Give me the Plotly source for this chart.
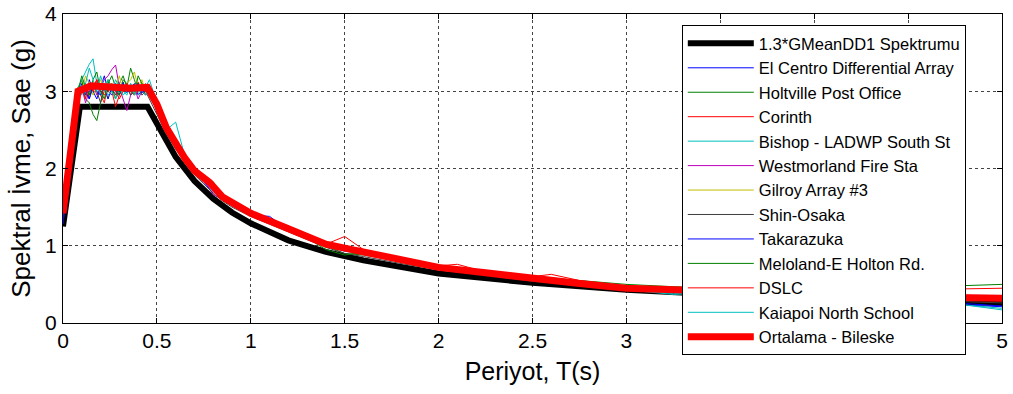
import plotly.graph_objects as go

# ---------------- data ----------------
T_design = [0, 0.09, 0.45, 0.5, 0.6, 0.7, 0.8, 0.9, 1.0, 1.2, 1.4, 1.6, 1.8, 2.0,
            2.5, 3.0, 3.5, 4.0, 4.5, 5.0]
design_vals = [1.25, 2.8, 2.8, 2.58, 2.15, 1.84, 1.61, 1.43, 1.29, 1.07, 0.92,
               0.81, 0.72, 0.64, 0.52, 0.43, 0.37, 0.32, 0.29, 0.26]

T_mean = [0, 0.08, 0.15, 0.25, 0.35, 0.45, 0.5, 0.55, 0.6, 0.65, 0.7, 0.78, 0.85,
          0.95, 1.0, 1.1, 1.2, 1.3, 1.4, 1.5, 1.6, 1.8, 2.0, 2.25, 2.5, 2.75, 3.0,
          3.5, 4.0, 4.5, 5.0]
mean_vals = [1.42, 3.0, 3.07, 3.05, 3.04, 3.05, 2.83, 2.53, 2.32, 2.13, 1.97, 1.82,
             1.63, 1.48, 1.42, 1.32, 1.22, 1.14, 1.02, 0.97, 0.92, 0.82, 0.72, 0.65,
             0.57, 0.51, 0.45, 0.41, 0.37, 0.34, 0.32]

T_rec = [0, 0.02, 0.04, 0.06, 0.08, 0.10, 0.12, 0.14, 0.16, 0.18, 0.20, 0.22, 0.24,
         0.26, 0.28, 0.30, 0.32, 0.34, 0.36, 0.38, 0.40, 0.42, 0.44, 0.46, 0.48, 0.50,
         0.55, 0.60, 0.65, 0.70, 0.75, 0.80, 0.85, 0.90, 0.95, 1.0,
         1.1, 1.2, 1.3, 1.4, 1.5, 1.6,
         1.8, 2.0, 2.1, 2.25, 2.5, 2.6, 2.75, 3.0, 3.25, 3.5, 4.0, 4.5, 5.0]

elcentro = [1.35, 1.75, 2.2, 2.6, 2.95, 3.1, 2.95, 3.15, 3.0, 2.9, 3.05, 3.2, 3.0, 2.95,
            3.1, 3.0, 3.12, 2.98, 3.05, 3.1, 2.95, 3.0, 3.08, 2.95, 2.85, 2.75,
            2.5, 2.3, 2.1, 1.95, 1.85, 1.72, 1.6, 1.52, 1.46, 1.4,
            1.38, 1.2, 1.1, 1.0, 0.94, 0.9,
            0.8, 0.72, 0.69, 0.64, 0.56, 0.54, 0.5, 0.45, 0.42, 0.4, 0.35, 0.3, 0.22]
holtville = [1.5, 1.85, 2.3, 2.7, 3.0, 3.15, 2.9, 2.85, 2.7, 2.62, 2.85, 3.0, 3.15, 3.05,
             2.9, 3.1, 3.2, 3.05, 3.3, 3.15, 3.0, 3.1, 2.95, 3.05, 2.9, 2.8,
             2.55, 2.3, 2.1, 2.0, 1.85, 1.83, 1.6, 1.6, 1.47, 1.4,
             1.3, 1.22, 1.12, 1.0, 0.9, 0.88,
             0.8, 0.72, 0.7, 0.65, 0.57, 0.55, 0.52, 0.46, 0.42, 0.4, 0.36, 0.33, 0.3]
corinth = [1.4, 1.8, 2.25, 2.65, 2.95, 3.0, 3.1, 2.95, 3.05, 3.15, 2.95, 2.85, 3.1, 3.0,
           2.8, 2.95, 3.05, 3.1, 2.95, 3.0, 3.12, 2.98, 3.0, 2.95, 2.9, 2.8,
           2.5, 2.28, 2.12, 1.95, 1.85, 1.74, 1.62, 1.53, 1.47, 1.41,
           1.3, 1.22, 1.12, 1.02, 1.12, 0.95,
           0.82, 0.73, 0.7, 0.65, 0.57, 0.55, 0.52, 0.46, 0.43, 0.41, 0.37, 0.35, 0.33]
bishop = [1.45, 1.8, 2.3, 2.7, 3.05, 3.15, 3.25, 3.35, 3.42, 3.1, 2.95, 3.05, 3.15, 3.0,
          2.9, 3.05, 3.0, 2.95, 3.1, 3.0, 2.95, 3.1, 3.05, 3.15, 3.0, 2.8,
          2.5, 2.6, 2.15, 1.97, 1.85, 1.73, 1.62, 1.54, 1.48, 1.42,
          1.3, 1.25, 1.13, 1.02, 0.95, 0.91,
          0.8, 0.71, 0.68, 0.64, 0.56, 0.54, 0.5, 0.44, 0.38, 0.4, 0.36, 0.33, 0.17]
westmorland = [1.4, 1.75, 2.2, 2.6, 2.9, 3.05, 2.85, 3.0, 3.1, 2.95, 3.05, 3.15, 3.2, 3.28,
               3.34, 3.05, 2.9, 2.75, 2.95, 3.05, 2.9, 3.0, 2.95, 3.0, 2.85, 2.78,
               2.52, 2.32, 2.1, 1.95, 1.84, 1.66, 1.6, 1.52, 1.46, 1.4,
               1.33, 1.22, 1.13, 1.02, 0.95, 0.9,
               0.81, 0.72, 0.69, 0.65, 0.57, 0.55, 0.51, 0.45, 0.43, 0.41, 0.37, 0.34, 0.3]
gilroy = [1.55, 1.9, 2.35, 2.75, 3.05, 3.0, 3.2, 3.1, 2.95, 3.05, 3.15, 3.0, 2.9, 3.1,
          3.05, 3.2, 3.0, 3.1, 3.15, 3.25, 3.05, 3.15, 3.0, 2.95, 2.88, 2.8,
          2.55, 2.34, 2.15, 1.98, 1.86, 1.74, 1.66, 1.54, 1.48, 1.42,
          1.31, 1.23, 1.14, 1.03, 0.96, 0.92,
          0.82, 0.73, 0.7, 0.66, 0.58, 0.56, 0.52, 0.46, 0.43, 0.41, 0.37, 0.34, 0.32]
shinosaka = [1.3, 1.7, 2.15, 2.55, 2.9, 3.0, 3.1, 2.9, 3.05, 3.0, 2.85, 3.1, 3.0, 3.05,
             2.95, 3.1, 3.0, 3.05, 2.95, 3.0, 3.1, 2.95, 3.0, 2.9, 2.8, 2.7,
             2.45, 2.25, 2.08, 1.92, 1.8, 1.68, 1.58, 1.5, 1.44, 1.38,
             1.28, 1.18, 1.08, 0.98, 0.9, 0.86,
             0.77, 0.69, 0.67, 0.62, 0.54, 0.52, 0.49, 0.43, 0.41, 0.38, 0.34, 0.3, 0.26]
takarazuka = [1.28, 1.7, 2.2, 2.6, 2.95, 3.05, 3.0, 2.9, 3.1, 3.0, 2.95, 3.05, 2.9, 3.05,
              3.0, 2.95, 3.1, 3.0, 3.0, 3.05, 3.1, 2.98, 3.02, 2.95, 2.85, 2.78,
              2.5, 2.3, 2.12, 1.96, 1.82, 1.7, 1.6, 1.55, 1.5, 1.45,
              1.35, 1.24, 1.12, 1.0, 0.93, 0.9,
              0.8, 0.72, 0.68, 0.64, 0.56, 0.54, 0.5, 0.45, 0.42, 0.39, 0.33, 0.27, 0.21]
meloland = [1.5, 1.85, 2.3, 2.7, 3.0, 3.2, 3.05, 2.95, 3.15, 3.25, 3.0, 2.9, 3.1, 3.2,
            3.05, 2.95, 3.15, 3.1, 3.0, 2.95, 3.2, 3.1, 3.0, 3.05, 2.95, 2.85,
            2.55, 2.35, 2.15, 1.98, 1.87, 1.76, 1.65, 1.56, 1.49, 1.42,
            1.3, 1.2, 1.1, 0.95, 0.88, 0.92,
            0.83, 0.75, 0.72, 0.68, 0.6, 0.58, 0.55, 0.5, 0.47, 0.45, 0.43, 0.46, 0.5]
dslc = [1.45, 1.8, 2.25, 2.65, 3.0, 3.05, 2.9, 3.1, 3.0, 3.15, 3.05, 2.95, 3.0, 3.1,
        3.0, 2.9, 3.0, 3.1, 3.05, 2.95, 3.0, 3.05, 3.1, 3.0, 2.9, 2.82,
        2.55, 2.33, 2.14, 1.98, 1.87, 1.75, 1.63, 1.55, 1.48, 1.42,
        1.32, 1.23, 1.14, 1.03, 0.97, 0.92,
        0.82, 0.74, 0.76, 0.66, 0.6, 0.63, 0.55, 0.47, 0.44, 0.42, 0.4, 0.43, 0.45]
kaiapoi = [1.45, 1.8, 2.25, 2.7, 3.05, 2.95, 3.1, 3.3, 3.15, 3.0, 3.2, 3.05, 2.95, 3.0,
           3.15, 3.05, 2.95, 3.0, 3.1, 2.95, 3.05, 3.0, 2.95, 3.05, 2.92, 2.8,
           2.52, 2.3, 2.12, 1.96, 1.85, 1.73, 1.62, 1.54, 1.47, 1.41,
           1.32, 1.26, 1.12, 1.02, 0.95, 0.9,
           0.8, 0.71, 0.68, 0.63, 0.55, 0.53, 0.49, 0.43, 0.37, 0.39, 0.35, 0.3, 0.19]

record_names = ["El Centro Differential Array", "Holtville Post Office", "Corinth",
                "Bishop - LADWP South St", "Westmorland Fire Sta", "Gilroy Array #3",
                "Shin-Osaka", "Takarazuka", "Meloland-E Holton Rd.", "DSLC",
                "Kaiapoi North School"]
record_values = [elcentro, holtville, corinth, bishop, westmorland, gilroy,
                 shinosaka, takarazuka, meloland, dslc, kaiapoi]
record_colors = ["#0000FF", "#008000", "#FF0000", "#00BFBF", "#BF00BF", "#BFBF00",
                 "#404040", "#0000FF", "#008000", "#FF0000", "#00BFBF"]

design_name = "1.3*GMeanDD1 Spektrumu"
mean_name = "Ortalama - Bileske"

x_tickvals = [0, 0.5, 1, 1.5, 2, 2.5, 3, 3.5, 4, 4.5, 5]
x_ticktext = ["0", "0.5", "1", "1.5", "2", "2.5", "3", "3.5", "4", "4.5", "5"]
y_tickvals = [0, 1, 2, 3, 4]
y_ticktext = ["0", "1", "2", "3", "4"]

# ---------------- figure ----------------
FONT = "Liberation Sans, Arial, sans-serif"
fig = go.Figure()

fig.add_trace(go.Scatter(x=T_design, y=design_vals, mode="lines", name=design_name,
                         line=dict(color="black", width=6)))
for name, vals, col in zip(record_names, record_values, record_colors):
    fig.add_trace(go.Scatter(x=T_rec, y=vals, mode="lines", name=name,
                             line=dict(color=col, width=1)))
fig.add_trace(go.Scatter(x=T_mean, y=mean_vals, mode="lines", name=mean_name,
                         line=dict(color="#FF0000", width=7)))

axis_common = dict(
    showline=True, linecolor="black", linewidth=1, mirror="ticks",
    ticks="inside", ticklen=5, tickcolor="black",
    showgrid=True, gridcolor="#444444", griddash="dot", gridwidth=1,
    zeroline=False, automargin=False, ticklabeloverflow="allow",
    tickfont=dict(family=FONT, size=21, color="black"),
)

fig.update_xaxes(range=[0, 5], tickvals=x_tickvals, ticktext=x_ticktext,
                 ticklabelstandoff=-1,
                 title=dict(text="Periyot, T(s)", font=dict(family=FONT, size=25, color="black"),
                            standoff=11),
                 **axis_common)
fig.update_yaxes(range=[0, 4], tickvals=y_tickvals, ticktext=y_ticktext,
                 ticklabelstandoff=1,
                 title=dict(text="Spektral İvme, Sae (g)", font=dict(family=FONT, size=26, color="black"),
                            standoff=7),
                 **axis_common)

fig.update_layout(
    width=1013, height=394,
    margin=dict(l=63, r=11, t=14, b=71),
    paper_bgcolor="white", plot_bgcolor="white",
    font=dict(family=FONT, color="black"),
    showlegend=True,
    legend=dict(x=0.659, y=0.964, xanchor="left", yanchor="top",
                bgcolor="white", bordercolor="black", borderwidth=1,
                font=dict(family=FONT, size=16.5, color="black"),
                tracegroupgap=0, itemwidth=66, maxheight=360),
)

# remove the page's default body margin so the figure fills the window exactly
fig.write_html("out.html",
               config={"displayModeBar": False},
               post_script="document.body.style.margin='0';document.body.style.overflow='hidden';")
